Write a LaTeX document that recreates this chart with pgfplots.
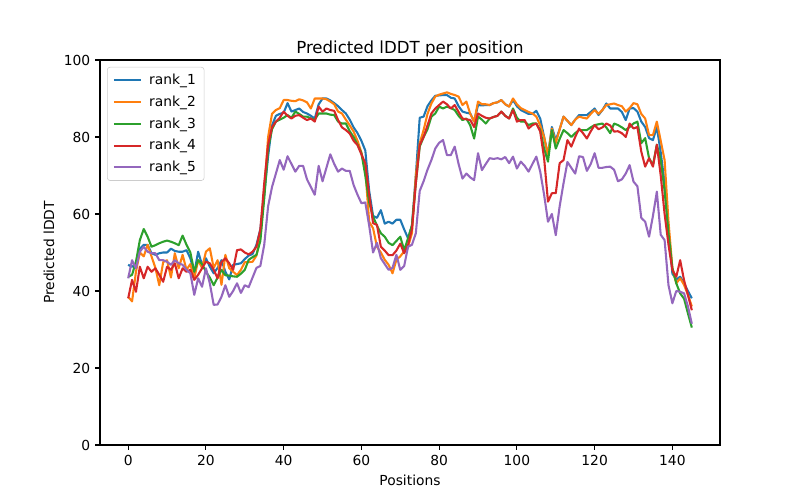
\documentclass[border=0pt]{standalone}
\usepackage{fontspec}
\setmainfont{DejaVu Sans}
\usepackage{pgfplots}
\usepackage{pgfplotstable}
\pgfplotsset{compat=1.18}
\definecolor{c1}{HTML}{1F77B4}
\definecolor{c2}{HTML}{FF7F0E}
\definecolor{c3}{HTML}{2CA02C}
\definecolor{c4}{HTML}{D62728}
\definecolor{c5}{HTML}{9467BD}
\pgfplotstableread{
i b o g r p
0 46.8 38.5 43.7 38.1 43.3
1 46.3 37.3 44.2 42.9 48.0
2 47.0 45.0 47.6 39.8 45.9
3 51.0 50.0 53.2 46.3 50.2
4 52.0 49.0 56.1 43.3 51.5
5 52.0 52.0 54.1 46.3 50.2
6 49.8 49.0 51.5 45.0 49.8
7 49.4 46.0 51.9 45.9 49.8
8 49.8 41.5 52.4 44.2 48.0
9 50.0 47.5 52.8 42.4 48.0
10 50.0 48.0 53.1 46.3 47.6
11 51.0 43.5 52.8 45.5 46.8
12 50.4 49.8 52.4 47.2 48.0
13 50.2 45.9 51.9 43.3 47.2
14 50.2 49.4 54.4 45.9 46.8
15 50.6 45.5 52.0 45.0 45.5
16 48.5 47.0 50.0 45.5 44.6
17 44.6 43.3 45.0 42.9 39.0
18 50.2 48.0 48.0 44.2 43.3
19 46.8 46.0 47.0 45.9 41.1
20 48.5 50.2 45.0 47.6 45.9
21 46.3 51.1 43.5 47.2 42.0
22 44.6 46.0 41.5 45.5 36.4
23 46.0 48.0 43.5 43.3 36.5
24 48.0 41.6 45.5 47.5 38.5
25 45.0 49.4 44.1 48.5 41.5
26 43.0 45.9 44.0 47.2 38.5
27 46.8 45.0 43.8 45.5 40.0
28 47.0 44.1 43.7 50.6 42.0
29 47.2 45.5 44.5 50.8 39.5
30 48.3 47.5 45.5 50.0 41.5
31 49.2 47.5 48.1 49.5 41.0
32 49.6 47.6 48.8 50.2 43.5
33 52.0 49.2 49.4 51.5 46.0
34 56.0 54.0 53.0 56.0 46.5
35 65.0 66.0 64.0 68.0 52.0
36 75.0 80.0 77.0 78.0 62.0
37 83.0 86.0 82.0 82.5 67.0
38 85.5 87.0 84.0 84.0 70.5
39 86.0 87.5 84.5 85.0 74.0
40 86.3 89.6 85.0 86.6 71.5
41 88.8 89.6 85.7 85.5 75.0
42 86.6 89.4 85.0 84.8 73.0
43 87.0 89.3 86.6 85.5 71.0
44 87.4 89.8 86.0 85.7 72.5
45 86.5 89.5 85.3 85.0 72.5
46 86.1 89.0 85.3 84.4 69.0
47 85.5 87.4 84.8 84.8 67.0
48 84.8 90.0 84.5 84.0 65.0
49 88.5 90.0 86.1 87.9 72.5
50 90.0 90.0 86.1 86.6 68.5
51 90.0 89.8 86.1 87.4 72.0
52 89.5 89.2 85.8 87.0 75.5
53 88.8 88.5 85.7 86.8 73.0
54 88.0 86.6 84.0 84.4 71.0
55 87.0 86.1 83.5 82.5 71.8
56 86.1 84.5 83.5 81.8 71.2
57 84.5 83.0 81.5 80.9 71.2
58 82.5 81.4 80.0 79.0 67.5
59 81.0 79.0 78.0 77.9 65.0
60 79.0 76.0 75.8 75.5 62.8
61 76.5 71.4 70.0 73.2 63.0
62 66.0 58.0 63.0 65.0 57.0
63 59.5 56.3 59.3 57.6 50.0
64 59.0 51.5 57.0 57.2 52.5
65 61.0 50.0 55.0 51.5 48.5
66 57.5 48.1 54.1 50.5 47.0
67 58.0 46.8 52.5 49.3 45.5
68 57.5 44.6 51.9 49.3 46.0
69 58.5 48.1 53.0 50.5 49.4
70 58.5 49.0 54.1 52.3 45.5
71 56.0 50.3 50.6 49.8 46.5
72 53.7 51.5 53.7 52.0 51.5
73 57.0 55.0 57.0 56.0 52.0
74 70.0 70.0 68.0 68.0 55.0
75 85.0 78.4 77.5 77.9 66.0
76 85.3 81.8 80.0 80.0 68.5
77 88.0 86.0 82.0 83.0 71.5
78 89.5 88.7 85.3 86.1 74.0
79 90.7 90.5 86.1 87.4 77.0
80 90.8 91.0 87.9 88.3 78.5
81 90.9 91.3 87.4 89.2 79.2
82 90.9 91.6 87.9 88.5 75.3
83 90.2 91.2 87.5 87.4 75.3
84 90.0 90.9 87.0 88.3 77.5
85 88.0 90.5 85.5 86.5 73.0
86 86.6 88.3 84.4 84.8 69.2
87 86.3 89.2 84.8 84.6 70.5
88 86.1 86.0 83.0 84.4 69.5
89 84.0 84.0 79.6 82.6 68.8
90 88.3 89.2 85.3 86.1 75.8
91 88.2 88.5 84.5 85.5 71.4
92 88.3 88.5 83.5 85.0 73.0
93 88.3 88.3 84.8 84.8 74.5
94 88.8 88.8 85.2 85.2 74.3
95 89.0 89.0 85.5 85.5 74.5
96 89.6 89.6 86.6 86.6 74.2
97 88.5 88.5 85.5 85.5 74.8
98 87.9 87.9 84.8 84.8 73.2
99 89.6 90.0 87.4 87.0 74.9
100 88.0 88.5 85.0 84.0 71.8
101 87.0 87.5 84.0 84.4 73.6
102 86.5 87.0 84.0 84.4 72.5
103 86.0 86.5 83.1 82.2 71.0
104 86.0 86.1 83.5 83.1 73.0
105 86.8 85.3 83.5 83.5 74.9
106 84.8 83.0 81.8 81.4 71.0
107 80.0 80.0 77.0 74.5 65.0
108 75.3 75.3 73.6 63.2 58.0
109 82.6 82.2 81.8 65.4 60.0
110 79.2 78.4 77.0 65.4 54.5
111 82.0 82.0 79.5 73.2 62.0
112 85.3 85.3 81.8 74.0 68.0
113 84.2 84.2 81.0 79.2 73.5
114 83.1 83.1 80.0 77.5 72.0
115 84.5 84.5 81.0 80.0 70.5
116 85.7 85.3 81.8 82.2 75.0
117 85.7 85.0 81.8 81.0 74.8
118 85.7 84.8 81.8 79.6 71.2
119 86.5 86.0 82.5 81.5 73.0
120 87.4 87.0 83.1 83.1 75.8
121 85.7 86.0 83.3 82.0 72.0
122 87.0 87.0 83.5 82.5 72.0
123 88.7 88.3 82.5 83.5 72.2
124 87.4 88.5 81.0 83.0 72.3
125 87.4 88.7 83.5 81.4 71.5
126 87.4 88.3 83.1 81.5 68.5
127 86.5 88.0 82.5 81.0 69.0
128 84.4 86.6 81.8 80.0 70.5
129 87.4 87.5 82.6 83.5 72.7
130 87.5 88.8 83.5 82.2 68.4
131 86.6 88.5 84.0 82.6 67.2
132 84.0 86.0 78.4 76.2 59.0
133 82.6 84.8 79.7 72.3 58.0
134 79.7 80.5 74.5 74.5 54.1
135 79.2 80.5 72.7 72.3 59.5
136 82.6 84.0 78.0 78.0 65.8
137 76.0 79.0 74.0 70.0 54.6
138 68.0 74.0 66.0 60.0 53.2
139 56.0 58.0 55.0 52.0 41.5
140 44.5 46.0 46.0 45.4 36.8
141 43.0 42.0 42.0 43.7 40.0
142 43.7 43.3 39.4 48.0 39.8
143 42.0 41.6 38.0 42.8 39.4
144 40.0 39.0 34.2 39.0 36.0
145 38.1 36.0 30.5 35.0 31.5
}\data
\begin{document}
\begin{tikzpicture}
\path[use as bounding box] (0,0) rectangle (8in,5in);
\begin{axis}[
  at={(1in,0.55in)}, anchor=south west,
  scale only axis, width=6.2in, height=3.85in,
  xmin=-7.25, xmax=152.25, ymin=0, ymax=100,
  xtick={0,20,...,140}, ytick={0,20,...,100},
  tick align=outside, tick pos=left,
  major tick length=3.5pt,
  every tick/.style={black, line width=0.8pt},
  axis line style={line width=0.8pt},
  font=\fontsize{10}{12}\selectfont,
  /pgf/number format/assume math mode=true,
  title={Predicted lDDT per position},
  title style={font=\fontsize{12}{14}\selectfont, yshift=-7pt},
  xlabel={Positions}, ylabel={Predicted lDDT},
  xlabel style={yshift=0pt}, ylabel style={yshift=0pt},
  legend style={at={(0.0113,0.982)}, anchor=north west, draw=black!20,
    rounded corners=2pt, font=\fontsize{10}{12}\selectfont, row sep=2.6pt,
    inner xsep=4pt, inner ysep=3pt},
  legend cell align=left,
  legend image code/.code={\draw[#1] (0cm,0cm) -- (0.7cm,0cm); \path (0.8cm,0cm);},
  every axis plot/.append style={line width=1.5pt, line join=round},
]
\addplot[c1] table[x=i,y=b] {\data};
\addlegendentry{rank\_1}
\addplot[c2] table[x=i,y=o] {\data};
\addlegendentry{rank\_2}
\addplot[c3] table[x=i,y=g] {\data};
\addlegendentry{rank\_3}
\addplot[c4] table[x=i,y=r] {\data};
\addlegendentry{rank\_4}
\addplot[c5] table[x=i,y=p] {\data};
\addlegendentry{rank\_5}
\end{axis}
\end{tikzpicture}
\end{document}
